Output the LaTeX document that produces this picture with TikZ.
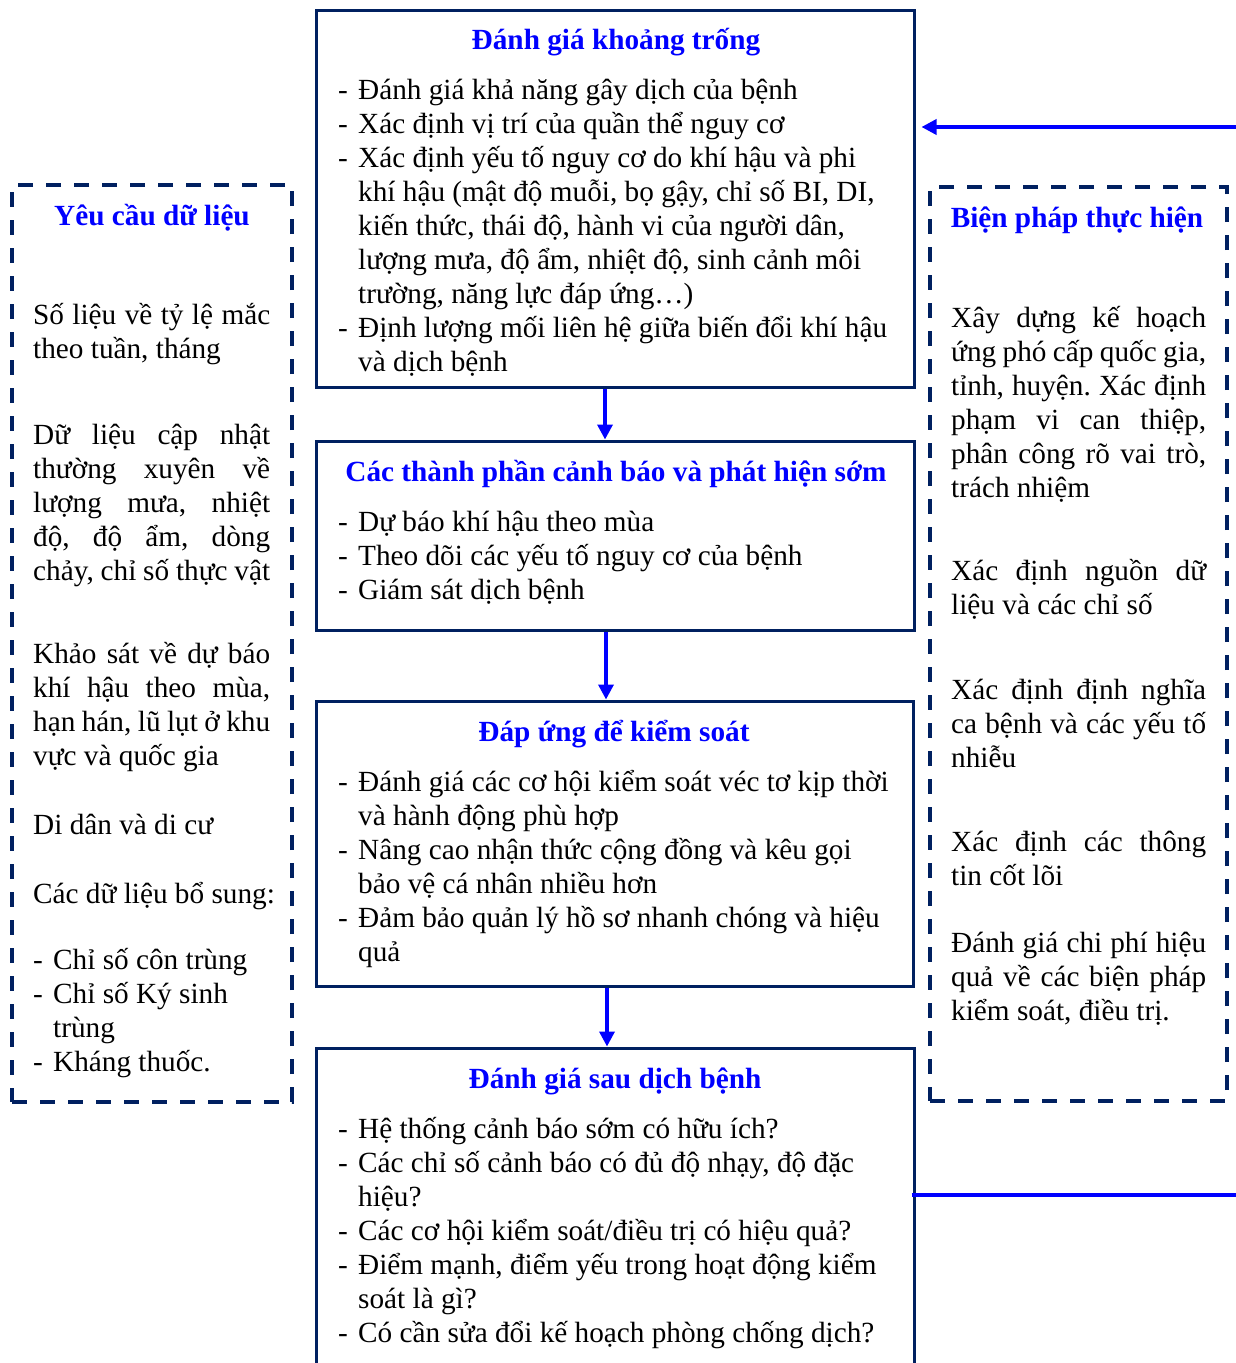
\documentclass[tikz,border=0pt]{standalone}
\usepackage{fontspec}
\setmainfont{Liberation Serif}
\usetikzlibrary{arrows.meta}
\definecolor{navy}{RGB}{0,32,96}
\definecolor{hblue}{RGB}{0,0,255}
% text size with a fixed baseline distance
\newcommand\bodyfont{\fontsize{29.25}{34}\selectfont\lineskiplimit=-100pt\relax}
% first-line strut: every text block is placed by its top edge, 30pt above the first baseline
\newcommand\fstrut{\rule{0pt}{30pt}}
% justified lines for the two side columns
\newcommand\jL[1]{\makebox[237pt][s]{#1}}
\newcommand\jR[1]{\makebox[255pt][s]{#1}}
% bullet dash and hanging indent
\newcommand\bl{\makebox[20pt][l]{-}}
\newcommand\ind{\hspace*{20pt}}
\frenchspacing
\begin{document}
\begin{tikzpicture}[x=1pt,y=-1pt,
  every node/.style={font=\bodyfont},
  box/.style={draw=navy, line width=3pt, inner sep=0pt},
  dbox/.style={draw=navy, line width=3.5pt, dash pattern=on 15pt off 13pt, inner sep=0pt},
  ttl/.style={anchor=base, inner sep=0pt, text=hblue, font=\bodyfont\bfseries},
  body/.style={anchor=north west, inner sep=0pt, align=left},
  arr/.style={draw=hblue, line width=3.5pt, -{Triangle[length=15pt,width=15pt]}},
  fb/.style={draw=hblue, line width=3.5pt}]
\useasboundingbox (0,0) rectangle (1236,1363);

% ---- main flow boxes ----
\node[box, minimum width=598pt, minimum height=377pt] (b1) at (615,198.5) {};
\node[box, minimum width=598pt, minimum height=189pt] (b2) at (615,535.5) {};
\node[box, minimum width=597pt, minimum height=285pt] (b3) at (614.5,843.5) {};
\node[box, minimum width=598pt, minimum height=332pt] (b4) at (615,1214) {};

% ---- side columns ----
\node[dbox, minimum width=280pt, minimum height=917pt] (lc) at (152,643.5) {};
\node[dbox, minimum width=297pt, minimum height=914pt] (rc) at (1078.5,644) {};

% ---- box 1 ----
\node[ttl] (t1) at (616,49) {Đánh giá khoảng trống};
\node[body] (x1) at (338,69) {\fstrut\bl Đánh giá khả năng gây dịch của bệnh\\
\bl Xác định vị trí của quần thể nguy cơ\\
\bl Xác định yếu tố nguy cơ do khí hậu và phi\\
\ind khí hậu (mật độ muỗi, bọ gậy, chỉ số BI, DI,\\
\ind kiến thức, thái độ, hành vi của người dân,\\
\ind lượng mưa, độ ẩm, nhiệt độ, sinh cảnh môi\\
\ind trường, năng lực đáp ứng…)\\
\bl Định lượng mối liên hệ giữa biến đổi khí hậu\\
\ind và dịch bệnh};

% ---- box 2 ----
\node[ttl] (t2) at (616,481) {Các thành phần cảnh báo và phát hiện sớm};
\node[body] (x2) at (338,501) {\fstrut\bl Dự báo khí hậu theo mùa\\
\bl Theo dõi các yếu tố nguy cơ của bệnh\\
\bl Giám sát dịch bệnh};

% ---- box 3 ----
\node[ttl] (t3) at (614,741) {Đáp ứng để kiểm soát};
\node[body] (x3) at (338,761) {\fstrut\bl Đánh giá các cơ hội kiểm soát véc tơ kịp thời\\
\ind và hành động phù hợp\\
\bl Nâng cao nhận thức cộng đồng và kêu gọi\\
\ind bảo vệ cá nhân nhiều hơn\\
\bl Đảm bảo quản lý hồ sơ nhanh chóng và hiệu\\
\ind quả};

% ---- box 4 ----
\node[ttl] (t4) at (615,1088) {Đánh giá sau dịch bệnh};
\node[body] (x4) at (338,1108) {\fstrut\bl Hệ thống cảnh báo sớm có hữu ích?\\
\bl Các chỉ số cảnh báo có đủ độ nhạy, độ đặc\\
\ind hiệu?\\
\bl Các cơ hội kiểm soát/điều trị có hiệu quả?\\
\bl Điểm mạnh, điểm yếu trong hoạt động kiểm\\
\ind soát là gì?\\
\bl Có cần sửa đổi kế hoạch phòng chống dịch?};

% ---- left column ----
\node[ttl] (tl) at (152,225) {Yêu cầu dữ liệu};
\node[body] (l1) at (33,294) {\fstrut\jL{Số liệu về tỷ lệ mắc}\\theo tuần, tháng};
\node[body] (l2) at (33,414) {\fstrut\jL{Dữ liệu cập nhật}\\\jL{thường xuyên về}\\
\jL{lượng mưa, nhiệt}\\\jL{độ, độ ẩm, dòng}\\\jL{chảy, chỉ số thực vật}};
\node[body] (l3) at (33,633) {\fstrut\jL{Khảo sát về dự báo}\\\jL{khí hậu theo mùa,}\\
\jL{hạn hán, lũ lụt ở khu}\\vực và quốc gia};
\node[body] (l4) at (33,804) {\fstrut Di dân và di cư};
\node[body] (l5) at (33,873) {\fstrut Các dữ liệu bổ sung:};
\node[body] (l6) at (33,939) {\fstrut\bl Chỉ số côn trùng\\\bl Chỉ số Ký sinh\\
\ind trùng\\\bl Kháng thuốc.};

% ---- right column ----
\node[ttl] (tr) at (1077,227) {Biện pháp thực hiện};
\node[body] (r1) at (951,297) {\fstrut\jR{Xây dựng kế hoạch}\\\jR{ứng phó cấp quốc gia,}\\
\jR{tỉnh, huyện. Xác định}\\\jR{phạm vi can thiệp,}\\\jR{phân công rõ vai trò,}\\trách nhiệm};
\node[body] (r2) at (951,550) {\fstrut\jR{Xác định nguồn dữ}\\liệu và các chỉ số};
\node[body] (r3) at (951,669) {\fstrut\jR{Xác định định nghĩa}\\\jR{ca bệnh và các yếu tố}\\nhiễu};
\node[body] (r4) at (951,821) {\fstrut\jR{Xác định các thông}\\tin cốt lõi};
\node[body] (r5) at (951,922) {\fstrut\jR{Đánh giá chi phí hiệu}\\\jR{quả về các biện pháp}\\kiểm soát, điều trị.};

% ---- connectors ----
\draw[arr] ([xshift=-10pt]b1.south) -- ([xshift=-10pt]b2.north);
\draw[arr] ([xshift=-9pt]b2.south) -- ([xshift=-9pt]b2.south |- b3.north);
\draw[arr] ([xshift=-7.5pt]b3.south) -- ([xshift=-7.5pt]b3.south |- b4.north);
\coordinate (rin) at (1236,127);
\coordinate (rout) at (1236,1195);
\draw[arr] (rin) -- ([xshift=6pt]b1.east |- rin);
\draw[fb] ([xshift=-4pt]b4.east |- rout) -- (rout);
\end{tikzpicture}
\end{document}
